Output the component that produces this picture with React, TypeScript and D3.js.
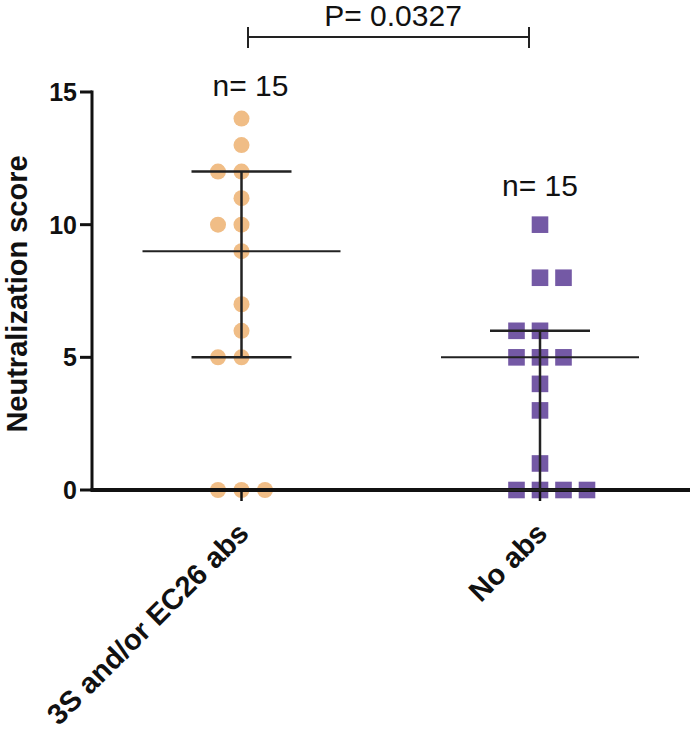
import React from 'react';
import * as d3 from 'd3';

// groups on the x axis
const groups = ['3S and/or EC26 abs', 'No abs'];

// neutralization scores
const antibodyScores = [14, 13, 12, 12, 11, 10, 10, 9, 7, 6, 5, 5, 0, 0, 0];
const noAbScores = [10, 8, 8, 6, 6, 5, 5, 5, 4, 3, 1, 0, 0, 0, 0];

// column of each dot inside its scatter (stacking order of the original plot)
const antibodyCols = [0, 0, -1, 0, 0, -1, 0, 0, 0, 0, -1, 0, -1, 0, 1];
const noAbCols = [0, 0, 1, -1, 0, -1, 0, 1, 0, 0, 0, -1, 0, 1, 2];

const yTicks = [0, 5, 10, 15];
const pValue = 'P= 0.0327';

const W = 692;
const H = 730;
const font = "Arial, 'Liberation Sans', sans-serif";

// quartiles the GraphPad way: rank (n + 1) * p
const quant = (vals: number[], p: number) => {
  const s = [...vals].sort((a, b) => a - b);
  const r = (s.length + 1) * p - 1;
  const lo = Math.floor(r);
  const hi = Math.min(s.length - 1, lo + 1);
  return s[lo] + (s[hi] - s[lo]) * (r - lo);
};

const App = () => {
  const y = d3.scaleLinear().domain([0, 15]).range([490, 92]);
  const x = d3.scalePoint<string>().domain(groups).range([241.5, 540]);
  const jitter = d3.scaleLinear().domain([0, 1]).range([0, 23.5]);

  const series = [
    { name: groups[0], values: antibodyScores, cols: antibodyCols, color: '#F0BD86', shape: 'circle' },
    { name: groups[1], values: noAbScores, cols: noAbCols, color: '#7459A5', shape: 'square' },
  ];

  const x0 = x(groups[0]) as number;
  const x1 = x(groups[1]) as number;

  return (
    <svg width={W} height={H} style={{ position: 'absolute', left: 0, top: 0, background: '#fff' }} fontFamily={font}>
      {/* y axis */}
      <line x1={92} x2={92} y1={y(15) - 1.5} y2={y(0)} stroke="#111" strokeWidth={3} />
      {yTicks.map((t) => (
        <g key={t}>
          <line x1={80} x2={92} y1={y(t)} y2={y(t)} stroke="#111" strokeWidth={3} />
          <text x={77} y={y(t)} dy="0.36em" textAnchor="end" fontSize={25} fontWeight="bold" fill="#111">
            {t}
          </text>
        </g>
      ))}
      <text
        transform={`translate(27, 294) rotate(-90)`}
        textAnchor="middle"
        fontSize={29}
        fontWeight="bold"
        fill="#111"
      >
        Neutralization score
      </text>

      {/* dots */}
      {series.map((s) => {
        const cx = x(s.name) as number;
        return (
          <g key={s.name} fill={s.color}>
            {s.values.map((v, i) =>
              s.shape === 'circle' ? (
                <circle key={i} cx={cx + jitter(s.cols[i])} cy={y(v)} r={8} />
              ) : (
                <rect key={i} x={cx + jitter(s.cols[i]) - 8.3} y={y(v) - 8.3} width={16.6} height={16.6} />
              )
            )}
          </g>
        );
      })}

      {/* x axis */}
      <line x1={90.5} x2={690} y1={y(0)} y2={y(0)} stroke="#111" strokeWidth={4} />
      {groups.map((g) => (
        <line key={g} x1={x(g)} x2={x(g)} y1={y(0)} y2={y(0) + 11} stroke="#111" strokeWidth={2.5} />
      ))}
      {groups.map((g) => (
        <text
          key={g}
          transform={`translate(${(x(g) as number) + 9}, ${y(0) + 45}) rotate(-45)`}
          textAnchor="end"
          fontSize={29}
          fontWeight="bold"
          fill="#111"
        >
          {g}
        </text>
      ))}

      {/* median and interquartile range */}
      {series.map((s) => {
        const cx = x(s.name) as number;
        const med = quant(s.values, 0.5);
        const q1 = quant(s.values, 0.25);
        const q3 = quant(s.values, 0.75);
        return (
          <g key={s.name} stroke="#222">
            <line x1={cx} x2={cx} y1={y(q1)} y2={y(q3)} strokeWidth={2.5} />
            <line x1={cx - 50} x2={cx + 50} y1={y(q1)} y2={y(q1)} strokeWidth={2.5} />
            <line x1={cx - 50} x2={cx + 50} y1={y(q3)} y2={y(q3)} strokeWidth={2.5} />
            <line x1={cx - 99} x2={cx + 99} y1={y(med)} y2={y(med)} strokeWidth={2} />
          </g>
        );
      })}

      {/* n labels */}
      <text x={x0 + 9} y={96} textAnchor="middle" fontSize={30} fill="#111">
        n= {antibodyScores.length}
      </text>
      <text x={x1} y={196} textAnchor="middle" fontSize={30} fill="#111">
        n= {noAbScores.length}
      </text>

      {/* significance bracket */}
      <g stroke="#222" strokeWidth={2}>
        <line x1={x0 + 6.5} x2={x1 - 11} y1={37} y2={37} />
        <line x1={x0 + 6.5} x2={x0 + 6.5} y1={27} y2={48} />
        <line x1={x1 - 11} x2={x1 - 11} y1={27} y2={48} />
      </g>
      <text x={393} y={26} textAnchor="middle" fontSize={30} fill="#111">
        {pValue}
      </text>
    </svg>
  );
};

export default App;
